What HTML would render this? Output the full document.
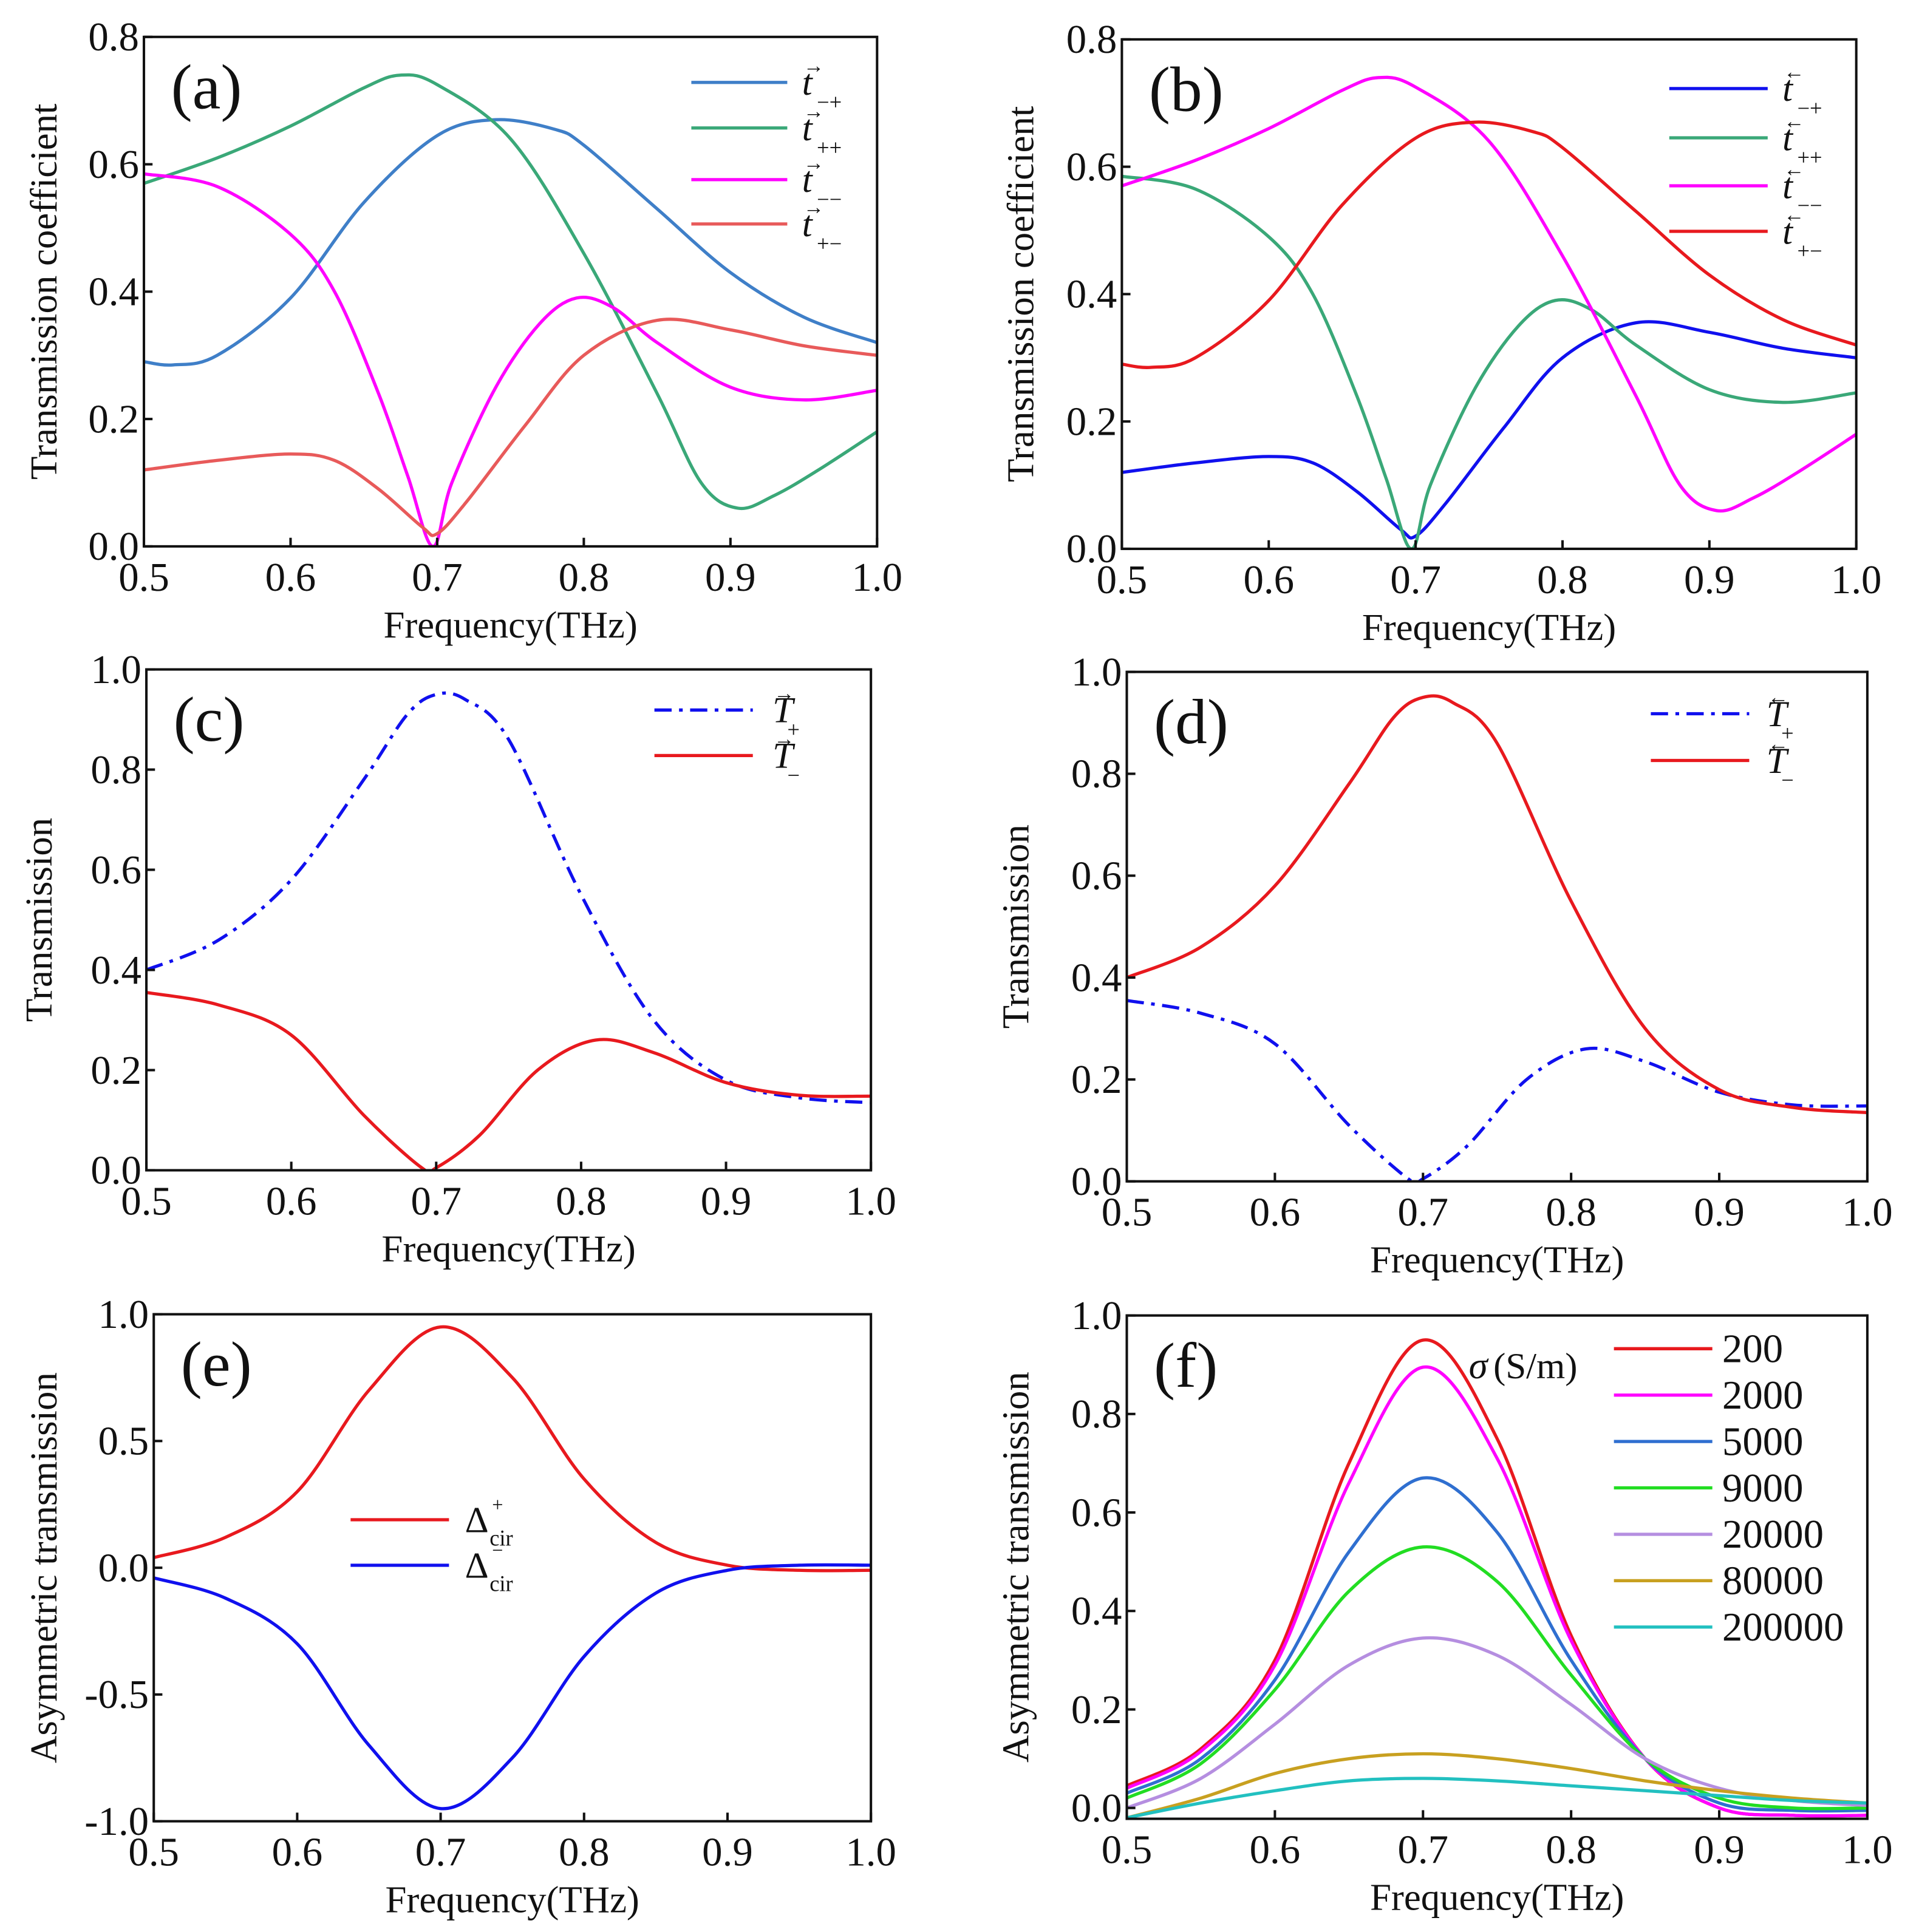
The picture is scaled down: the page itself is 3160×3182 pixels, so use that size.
<!DOCTYPE html>
<html><head><meta charset="utf-8"><style>
html,body{margin:0;padding:0;background:#fff}
svg{display:block}
text{font-family:"Liberation Serif","DejaVu Serif",serif;fill:#111}
</style></head><body>
<svg id="fig" width="3160" height="3182" viewBox="0 0 1560 1570" preserveAspectRatio="none" font-family="Liberation Serif, serif" xmlns="http://www.w3.org/2000/svg"></svg>
<script>
const freqA=[0.5,0.52,0.55,0.6,0.65,0.7,0.74,0.78,0.8,0.85,0.9,0.95,1.0];
const aBlue=[0.29,0.285,0.30,0.39,0.54,0.645,0.67,0.655,0.63,0.53,0.43,0.36,0.32];
const freqG=[0.5,0.55,0.6,0.65,0.675,0.7,0.75,0.8,0.85,0.88,0.905,0.93,0.96,1.0];
const aGreen=[0.57,0.61,0.66,0.72,0.74,0.725,0.64,0.46,0.24,0.10,0.06,0.08,0.12,0.18];
const freqM=[0.5,0.55,0.6,0.63,0.66,0.68,0.697,0.71,0.74,0.77,0.795,0.82,0.85,0.9,0.95,1.0];
const aMag=[0.585,0.565,0.49,0.40,0.24,0.11,0.0,0.10,0.25,0.35,0.39,0.375,0.32,0.25,0.23,0.245];
const freqR=[0.5,0.55,0.6,0.63,0.66,0.69,0.7,0.72,0.76,0.8,0.85,0.9,0.95,1.0];
const aRed=[0.12,0.135,0.145,0.135,0.09,0.03,0.02,0.07,0.19,0.30,0.355,0.34,0.315,0.30];
const freqC=[0.5,0.55,0.6,0.65,0.68,0.7,0.72,0.75,0.8,0.85,0.9,0.95,1.0];
const cPlus=[0.40,0.46,0.58,0.78,0.91,0.95,0.94,0.86,0.55,0.30,0.18,0.145,0.135];
const freqC2=[0.5,0.55,0.6,0.65,0.69,0.7,0.73,0.77,0.81,0.85,0.9,0.95,1.0];
const cMinus=[0.355,0.33,0.27,0.11,0.005,0.005,0.07,0.20,0.26,0.235,0.175,0.15,0.148];
const freqE=[0.5,0.55,0.6,0.65,0.7,0.75,0.8,0.85,0.9,0.95,1.0];
const eRed=[0.04,0.12,0.30,0.70,0.95,0.75,0.35,0.10,0.01,-0.01,-0.01];
const eBlue=[-0.04,-0.12,-0.30,-0.70,-0.95,-0.75,-0.35,-0.10,-0.01,0.01,0.01];
const sigmaLabels=["200","2000","5000","9000","20000","80000","200000"];
const s200=[0.045,0.12,0.30,0.70,0.95,0.75,0.35,0.10,0.0,-0.015,-0.015];
const s2000=[0.04,0.115,0.29,0.66,0.895,0.71,0.34,0.10,0.0,-0.015,-0.015];
const s5000=[0.03,0.10,0.26,0.52,0.67,0.56,0.30,0.10,0.01,-0.005,-0.005];
const s9000=[0.02,0.09,0.24,0.44,0.53,0.46,0.27,0.10,0.02,0.0,0.0];
const s20000=[0.0,0.06,0.17,0.29,0.345,0.31,0.21,0.10,0.04,0.015,0.005];
const s80000=[-0.02,0.02,0.07,0.10,0.11,0.10,0.08,0.055,0.035,0.02,0.01];
const s200000=[-0.02,0.01,0.035,0.055,0.06,0.055,0.045,0.035,0.025,0.015,0.01];
const xTicks=["0.5","0.6","0.7","0.8","0.9","1.0"];

const NS="http://www.w3.org/2000/svg";
const svg=document.getElementById('fig');
function mk(tag,attrs,parent){const e=document.createElementNS(NS,tag);for(const k in attrs)e.setAttribute(k,attrs[k]);(parent||svg).appendChild(e);return e;}
function txt(s,x,y,size,parent,extra){const t=mk('text',Object.assign({x:x,y:y,'font-size':size,'font-family':'Liberation Serif, serif'},extra||{}),parent);t.textContent=s;return t;}
function smooth(pts){let d='M'+pts[0][0]+','+pts[0][1];for(let i=0;i<pts.length-1;i++){const p0=pts[Math.max(0,i-1)],p1=pts[i],p2=pts[i+1],p3=pts[Math.min(pts.length-1,i+2)];const c1x=p1[0]+(p2[0]-p0[0])/6,c1y=p1[1]+(p2[1]-p0[1])/6,c2x=p2[0]-(p3[0]-p1[0])/6,c2y=p2[1]-(p3[1]-p1[1])/6;d+=' C'+c1x+','+c1y+' '+c2x+','+c2y+' '+p2[0]+','+p2[1];}return d;}

function panel(cfg){
  const g=mk('g',{});
  
  
  const X=v=>cfg.x0+(v-0.5)/0.5*(cfg.x1-cfg.x0);
  const Y=v=>cfg.yb+(v-cfg.ymin)/(cfg.ymax-cfg.ymin)*(cfg.yt-cfg.yb);
  const clip=mk('clipPath',{id:'clip'+cfg.id},g);
  mk('rect',{x:cfg.x0,y:cfg.yt,width:cfg.x1-cfg.x0,height:cfg.yb-cfg.yt},clip);
  cfg.series.forEach(s=>{
    const p=mk('path',{d:smooth(s.x.map((f,i)=>[X(f),Y(s.y[i])])),fill:'none',stroke:s.c,'stroke-width':2.6,'stroke-dasharray':s.dash||'none','clip-path':'url(#clip'+cfg.id+')'},g);
    
    
  });
  const fr=mk('rect',{x:cfg.x0,y:cfg.yt,width:cfg.x1-cfg.x0,height:cfg.yb-cfg.yt,fill:'none',stroke:'#111','stroke-width':2},g);
  
  
  xTicks.forEach(l=>{const v=parseFloat(l);const x=X(v);
    mk('line',{x1:x,x2:x,y1:cfg.yb,y2:cfg.yb-7,stroke:'#111','stroke-width':2},g);
    const t=txt(l,x,cfg.yb+36,33,g,{'text-anchor':'middle'});
    
    
  });
  cfg.yTicks.forEach(l=>{const v=parseFloat(l);const y=Y(v);
    mk('line',{x1:cfg.x0,x2:cfg.x0+7,y1:y,y2:y,stroke:'#111','stroke-width':2},g);
    const t=txt(l,cfg.x0-4,y+11,33,g,{'text-anchor':'end'});
    
    
  });
  const xt=txt('Frequency(THz)',(cfg.x0+cfg.x1)/2,cfg.yb+74,31,g,{'text-anchor':'middle'});
  
  
  const cy=(cfg.yt+cfg.yb)/2;
  const yt=txt(cfg.ytitle,cfg.ytx,cy,31,g,{'text-anchor':'middle',transform:'rotate(-90 '+cfg.ytx+' '+cy+')'});
  
  
  const pl=txt('('+cfg.id+')',cfg.x0+22,cfg.yt+58,52,g);
  
  
  return g;
}
function legLine(g,x1,x2,y,c,dash){const l=mk('line',{x1:x1,x2:x2,y1:y,y2:y,stroke:c,'stroke-width':2.6,'stroke-dasharray':dash||'none'},g);
  
  }
function legSym(g,x,y,sym,sub,arrow){
  const t=txt(sym,x,y+10,30,g,{'font-style':'italic'});
  
  
  txt(arrow,x+1,y-8,17,g);
  txt(sub,x+12,y+22,18,g);
}

const BLUE1='#3f7fc8',GRN='#3aa878',MAG='#ff00ff',RED1='#e85a5a',BLUE='#1010ee',RED='#e8191e';
const DD='14,6,3,6';
let g=panel({id:'a',x0:117,x1:713,yt:30,yb:444,ymin:0,ymax:0.8,yTicks:["0.0","0.2","0.4","0.6","0.8"],ytitle:'Transmission coefficient',ytx:46,
 series:[{n:'t-minus-plus',x:freqA,y:aBlue,c:BLUE1},{n:'t-plus-plus',x:freqG,y:aGreen,c:GRN},{n:'t-minus-minus',x:freqM,y:aMag,c:MAG},{n:'t-plus-minus',x:freqR,y:aRed,c:RED1}]});
[[BLUE1,'−+',67],[GRN,'++',104],[MAG,'−−',146],[RED1,'+−',182]].forEach(r=>{legLine(g,562,640,r[2],r[0]);legSym(g,652,r[2],'t',r[1],'→');});
g=panel({id:'b',x0:912,x1:1509,yt:32,yb:446,ymin:0,ymax:0.8,yTicks:["0.0","0.2","0.4","0.6","0.8"],ytitle:'Transmission coefficient',ytx:840,
 series:[{n:'t-minus-plus',x:freqR,y:aRed,c:BLUE},{n:'t-plus-plus',x:freqM,y:aMag,c:GRN},{n:'t-minus-minus',x:freqG,y:aGreen,c:MAG},{n:'t-plus-minus',x:freqA,y:aBlue,c:RED}]});
[[BLUE,'−+',72],[GRN,'++',112],[MAG,'−−',151],[RED,'+−',188]].forEach(r=>{legLine(g,1357,1437,r[2],r[0]);legSym(g,1449,r[2],'t',r[1],'←');});
g=panel({id:'c',x0:119,x1:708,yt:544,yb:951,ymin:0,ymax:1,yTicks:["0.0","0.2","0.4","0.6","0.8","1.0"],ytitle:'Transmission',ytx:42,
 series:[{n:'T-plus',x:freqC,y:cPlus,c:BLUE,dash:DD},{n:'T-minus',x:freqC2,y:cMinus,c:RED}]});
legLine(g,532,612,577,BLUE,DD);legSym(g,628,577,'T','+','→');
legLine(g,532,612,614,RED);legSym(g,628,614,'T','−','→');
g=panel({id:'d',x0:916,x1:1518,yt:546,yb:960,ymin:0,ymax:1,yTicks:["0.0","0.2","0.4","0.6","0.8","1.0"],ytitle:'Transmission',ytx:836,
 series:[{n:'T-plus',x:freqC2,y:cMinus,c:BLUE,dash:DD},{n:'T-minus',x:freqC,y:cPlus,c:RED}]});
legLine(g,1342,1422,580,BLUE,DD);legSym(g,1436,580,'T','+','←');
legLine(g,1342,1422,618,RED);legSym(g,1436,618,'T','−','←');
g=panel({id:'e',x0:125,x1:708,yt:1068,yb:1480,ymin:-1,ymax:1,yTicks:["-1.0","-0.5","0.0","0.5","1.0"],ytitle:'Asymmetric transmission',ytx:46,
 series:[{n:'delta-plus',x:freqE,y:eRed,c:RED},{n:'delta-minus',x:freqE,y:eBlue,c:BLUE}]});
legLine(g,285,365,1235,RED);txt('Δ',378,1245,30,g);txt('+',400,1228,16,g);txt('cir',398,1256,18,g);
legLine(g,285,365,1272,BLUE);txt('Δ',378,1282,30,g);txt('−',400,1265,16,g);txt('cir',398,1293,18,g);
const fCols=['#e8191e','#ff00ff','#2f6fd0','#22dd22','#b58ee0','#c8a020','#22c0c0'];
const fData=[s200,s2000,s5000,s9000,s20000,s80000,s200000];
g=panel({id:'f',x0:916,x1:1518,yt:1069,yb:1478,ymin:-0.022,ymax:1,yTicks:["0.0","0.2","0.4","0.6","0.8","1.0"],ytitle:'Asymmetric transmission',ytx:836,
 series:fData.map((d,i)=>({n:'sigma-'+sigmaLabels[i],x:freqE,y:d,c:fCols[i]}))});
sigmaLabels.forEach((l,i)=>{const y=1096+i*37.7;legLine(g,1312,1392,y,fCols[i]);
  const t=txt(l,1400,y+11,33,g);
  
  });
const st=txt('σ',1194,1120,31,g,{'font-style':'italic'});


txt('(S/m)',1214,1120,30,g);
</script>
</body></html>
